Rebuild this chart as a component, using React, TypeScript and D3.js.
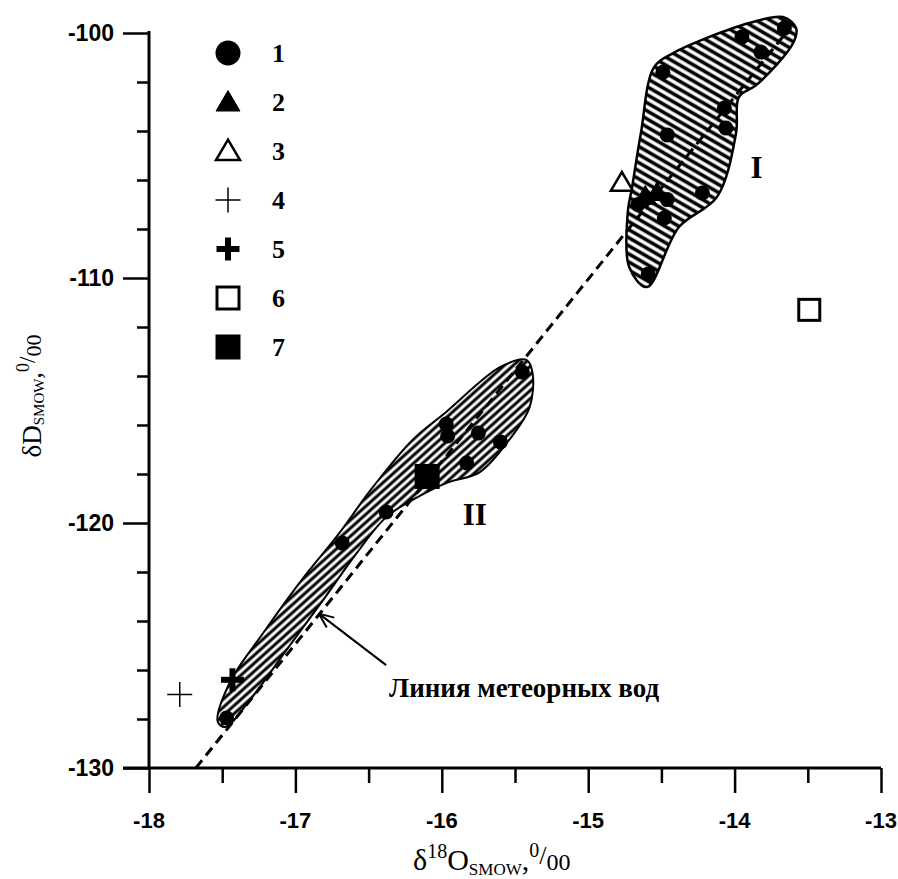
import React, { useEffect, useRef } from 'react';
import * as d3 from 'd3';

const W = 898;
const H = 879;

// series 1: filled circles
const s1: [number, number][] = [
  [-13.66, -99.8], [-13.95, -100.16], [-13.82, -100.78], [-14.49, -101.6],
  [-14.07, -103.06], [-14.06, -103.88], [-14.46, -104.16], [-14.22, -106.53],
  [-14.48, -107.55], [-14.59, -109.84], [-14.66, -107.0], [-14.46, -106.8],
  [-15.45, -113.84], [-15.97, -115.96], [-15.96, -116.45], [-15.75, -116.33],
  [-15.6, -116.69], [-15.83, -117.55], [-16.38, -119.55], [-16.68, -120.82],
  [-17.47, -127.96]
];
// series 2..7
const s2: [number, number][] = [[-14.61, -106.65], [-14.53, -106.5]];
const s3: [number, number][] = [[-14.77, -106.1]];
const s4: [number, number][] = [[-17.79, -127.0]];
const s5: [number, number][] = [[-17.43, -126.4]];
const s6: [number, number][] = [[-13.49, -111.3]];
const s7: [number, number][] = [[-16.1, -118.1]];

// outlines of groups I and II
const regionI: [number, number][] = [
  [-13.58, -99.8], [-13.67, -99.35], [-13.9, -99.59], [-14.19, -100.2],
  [-14.42, -100.82], [-14.55, -101.39], [-14.64, -104.08], [-14.7, -106.29],
  [-14.73, -107.35], [-14.72, -109.55], [-14.6, -110.37], [-14.38, -107.92],
  [-14.12, -106.69], [-13.99, -104.08], [-13.97, -102.61], [-13.85, -102.12],
  [-13.6, -100.41]
];
const regionII: [number, number][] = [
  [-15.42, -113.35], [-15.38, -113.88], [-15.4, -115.27], [-15.54, -116.61],
  [-15.74, -117.92], [-15.97, -118.37], [-16.2, -119.06], [-16.38, -119.76],
  [-16.58, -121.22], [-16.81, -123.14], [-17.06, -125.18], [-17.31, -127.22],
  [-17.48, -128.33], [-17.53, -128.12], [-17.45, -126.53], [-17.22, -124.49],
  [-16.92, -122.04], [-16.72, -120.57], [-16.47, -118.53], [-16.2, -116.61],
  [-15.97, -115.47], [-15.6, -113.63]
];

// meteoric water line
const mwl: [number, number][] = [[-17.68, -130], [-13.65, -100]];

const legendLabels = ['1', '2', '3', '4', '5', '6', '7'];
const legendKinds = ['circle', 'tri', 'triOpen', 'plus', 'plusBold', 'sqOpen', 'sq'];
const xTicks = [-18, -17, -16, -15, -14, -13];
const yTicks = [-130, -120, -110, -100];

function marker(g: any, kind: string, cx: number, cy: number, s: number) {
  const h = s / 2;
  if (kind === 'circle') {
    g.append('circle').attr('cx', cx).attr('cy', cy).attr('r', h).attr('fill', '#000');
  } else if (kind === 'tri' || kind === 'triOpen') {
    const p = `M${cx},${cy - h * 0.95}L${cx + h},${cy + h * 0.75}L${cx - h},${cy + h * 0.75}Z`;
    g.append('path').attr('d', p)
      .attr('fill', kind === 'tri' ? '#000' : '#fff')
      .attr('stroke', '#000').attr('stroke-width', kind === 'tri' ? 1 : 2.5)
      .attr('stroke-linejoin', 'miter');
  } else if (kind === 'plus' || kind === 'plusBold') {
    const sw = kind === 'plus' ? 1.5 : 6;
    g.append('line').attr('x1', cx - h).attr('x2', cx + h).attr('y1', cy).attr('y2', cy)
      .attr('stroke', '#000').attr('stroke-width', sw);
    g.append('line').attr('x1', cx).attr('x2', cx).attr('y1', cy - h).attr('y2', cy + h)
      .attr('stroke', '#000').attr('stroke-width', sw);
  } else if (kind === 'sqOpen') {
    g.append('rect').attr('x', cx - h + 1.5).attr('y', cy - h + 1.5)
      .attr('width', s - 3).attr('height', s - 3)
      .attr('fill', '#fff').attr('stroke', '#000').attr('stroke-width', 3);
  } else if (kind === 'sq') {
    g.append('rect').attr('x', cx - h).attr('y', cy - h).attr('width', s).attr('height', s)
      .attr('fill', '#000');
  }
}

const App = () => {
  const ref = useRef<SVGSVGElement>(null);

  useEffect(() => {
    document.body.style.margin = '0';
    const svg = d3.select(ref.current);
    svg.selectAll('*').remove();

    const x = d3.scaleLinear().domain([-18, -13]).range([149, 881]);
    const y = d3.scaleLinear().domain([-130, -100]).range([768, 33]);

    const defs = svg.append('defs');
    const hatch = (id: string, size: number, sw: number, angle: number) => {
      const p = defs.append('pattern').attr('id', id)
        .attr('patternUnits', 'userSpaceOnUse')
        .attr('width', size).attr('height', size)
        .attr('patternTransform', `rotate(${angle})`);
      p.append('rect').attr('width', size).attr('height', size).attr('fill', '#fff');
      p.append('line').attr('x1', 0).attr('x2', size).attr('y1', size / 2).attr('y2', size / 2)
        .attr('stroke', '#000').attr('stroke-width', sw);
    };
    hatch('hI', 7, 3.6, 30);
    hatch('hII', 6, 3, -42);

    // axes
    const font = '"Liberation Sans", Arial, sans-serif';
    const yAxis = svg.append('g').attr('transform', 'translate(149,0)')
      .call(d3.axisLeft(y).tickValues(d3.range(-130, -99, 2)).tickSize(12).tickFormat(() => ''));
    yAxis.selectAll('.tick line').filter((d: any) => yTicks.includes(d)).attr('x2', -26);
    yAxis.select('.domain').attr('stroke-width', 3).attr('d', `M0,${y(-130)}V${y(-100) - 2}`);
    yAxis.selectAll('.tick line').attr('stroke-width', 2.5);

    const xAxis = svg.append('g').attr('transform', 'translate(0,768)')
      .call(d3.axisBottom(x).tickValues(d3.range(-18, -12.9, 0.5)).tickSize(15).tickFormat(() => ''));
    xAxis.selectAll('.tick line').filter((d: any) => xTicks.includes(d)).attr('y2', 25);
    xAxis.select('.domain').attr('stroke-width', 3).attr('d', `M123,0H${x(-13)}`);
    xAxis.selectAll('.tick line').attr('stroke-width', 2.5);

    svg.append('g').selectAll('text').data(yTicks).join('text')
      .attr('x', 114).attr('y', (d) => y(d) + 8)
      .attr('text-anchor', 'end').attr('font-family', font).attr('font-weight', 700)
      .attr('font-size', 23).text((d) => String(d));
    svg.append('g').selectAll('text').data(xTicks).join('text')
      .attr('x', (d) => x(d)).attr('y', 828)
      .attr('text-anchor', 'middle').attr('font-family', font).attr('font-weight', 700)
      .attr('font-size', 22).text((d) => String(d));

    // groups
    const line = d3.line<[number, number]>().x((d) => x(d[0])).y((d) => y(d[1]))
      .curve(d3.curveCatmullRomClosed.alpha(0.5));
    svg.append('path').attr('d', line(regionI)).attr('fill', 'url(#hI)')
      .attr('stroke', '#000').attr('stroke-width', 2.5);
    svg.append('path').attr('d', line(regionII)).attr('fill', 'url(#hII)')
      .attr('stroke', '#000').attr('stroke-width', 2);

    // meteoric line
    svg.append('line')
      .attr('x1', x(mwl[0][0])).attr('y1', y(mwl[0][1]))
      .attr('x2', x(mwl[1][0])).attr('y2', y(mwl[1][1]))
      .attr('stroke', '#000').attr('stroke-width', 3).attr('stroke-dasharray', '10,6');

    // points
    const pts = svg.append('g');
    s1.forEach((d) => marker(pts, 'circle', x(d[0]), y(d[1]), 15));
    s2.forEach((d) => marker(pts, 'tri', x(d[0]), y(d[1]), 22));
    s3.forEach((d) => marker(pts, 'triOpen', x(d[0]), y(d[1]), 22));
    s4.forEach((d) => marker(pts, 'plus', x(d[0]), y(d[1]), 25));
    s5.forEach((d) => marker(pts, 'plusBold', x(d[0]), y(d[1]), 23));
    s6.forEach((d) => marker(pts, 'sqOpen', x(d[0]), y(d[1]), 24));
    s7.forEach((d) => marker(pts, 'sq', x(d[0]), y(d[1]), 25));

    // legend
    const serif = '"Liberation Serif", "Times New Roman", serif';
    const leg = svg.append('g');
    const legSizes = [25, 24, 24, 25, 23, 25, 25];
    legendLabels.forEach((lab, i) => {
      const cy = 53 + i * 49;
      marker(leg, legendKinds[i], 228, cy, legSizes[i]);
      leg.append('text').attr('x', 272).attr('y', cy + 9)
        .attr('font-family', serif).attr('font-weight', 700).attr('font-size', 26).text(lab);
    });

    // group labels
    svg.append('text').attr('x', x(-13.85)).attr('y', y(-105.9)).attr('text-anchor', 'middle')
      .attr('font-family', serif).attr('font-weight', 700).attr('font-size', 31).text('I');
    svg.append('text').attr('x', x(-15.775)).attr('y', y(-120.1)).attr('text-anchor', 'middle')
      .attr('font-family', serif).attr('font-weight', 700).attr('font-size', 31).text('II');

    // arrow annotation
    const tip: [number, number] = [-16.84, -123.7];
    const tail: [number, number] = [-16.38, -125.8];
    const tx = x(tip[0]), ty = y(tip[1]);
    const ang = Math.atan2(y(tail[1]) - ty, x(tail[0]) - tx);
    svg.append('line').attr('x1', tx).attr('y1', ty).attr('x2', x(tail[0])).attr('y2', y(tail[1]))
      .attr('stroke', '#000').attr('stroke-width', 2);
    [-0.4, 0.4].forEach((a) => {
      svg.append('line').attr('x1', tx).attr('y1', ty)
        .attr('x2', tx + 16 * Math.cos(ang + a)).attr('y2', ty + 16 * Math.sin(ang + a))
        .attr('stroke', '#000').attr('stroke-width', 2);
    });
    svg.append('text').attr('x', x(-16.36)).attr('y', y(-127.1))
      .attr('font-family', serif).attr('font-weight', 700).attr('font-size', 27)
      .text('Линия метеорных вод');

    // axis titles
    const xt = svg.append('text').attr('x', 413).attr('y', 870)
      .attr('font-family', serif).attr('font-size', 30);
    xt.append('tspan').text('δ');
    xt.append('tspan').attr('font-size', 20).attr('dy', -12).text('18');
    xt.append('tspan').attr('dy', 12).text('O');
    xt.append('tspan').attr('font-size', 17).attr('dy', 5).text('SMOW');
    xt.append('tspan').attr('dy', -5).text(',');
    xt.append('tspan').attr('font-size', 20).attr('dy', -13).text('0');
    xt.append('tspan').attr('font-size', 26).attr('dy', 7).text('/');
    xt.append('tspan').attr('font-size', 24).attr('dy', 6).text('00');

    const yt = svg.append('text').attr('transform', 'translate(41,396) rotate(-90)')
      .attr('text-anchor', 'middle').attr('font-family', serif).attr('font-size', 27);
    yt.append('tspan').text('δD');
    yt.append('tspan').attr('font-size', 15).attr('dy', 3).text('SMOW');
    yt.append('tspan').attr('dy', -3).text(',');
    yt.append('tspan').attr('font-size', 18).attr('dy', -12).text('0');
    yt.append('tspan').attr('font-size', 23).attr('dy', 6).text('/');
    yt.append('tspan').attr('font-size', 22).attr('dy', 6).text('00');
  }, []);

  return <svg ref={ref} width={W} height={H} style={{ display: 'block', background: '#fff' }} />;
};

export default App;
